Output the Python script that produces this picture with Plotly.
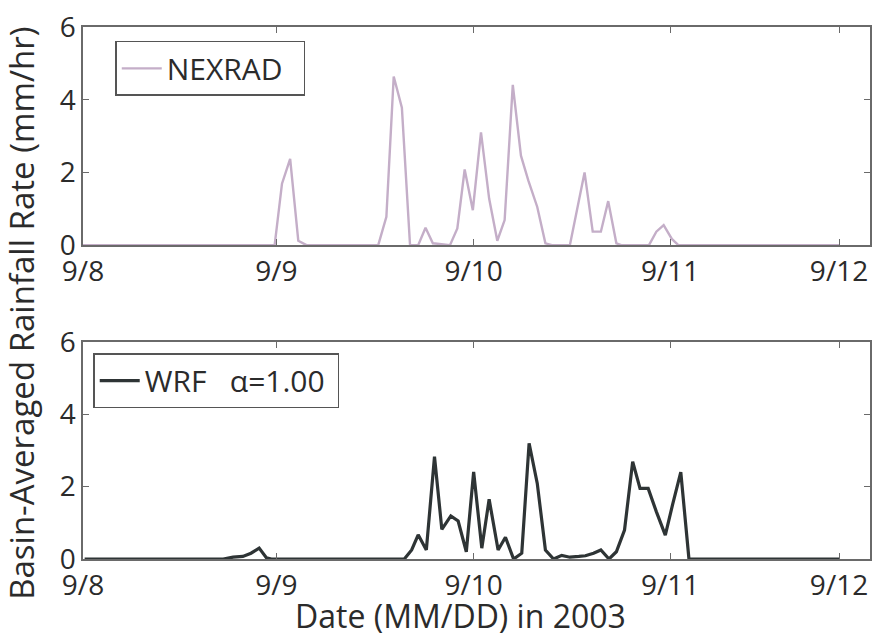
import plotly.graph_objects as go
from plotly.subplots import make_subplots

# hours since 9/8 00:00
nexrad_hours = [0, 23.5, 24.4, 25.4, 26.4, 27.4, 36.2, 37.2, 38.1, 39.1, 40.1, 41.1, 42.0, 42.9,
                45.0, 45.9, 46.8, 47.8, 48.8, 49.8, 50.8, 51.7, 52.7, 53.7, 54.6, 55.7, 56.7, 57.5,
                59.7, 60.6, 61.5, 62.5, 63.5, 64.4, 65.4, 66.0, 69.4, 70.3, 71.2, 72.2, 73.0, 92.7]
nexrad_rate = [0, 0, 1.69, 2.37, 0.12, 0, 0, 0.78, 4.64, 3.78, 0, 0, 0.48, 0.05,
               0, 0.46, 2.08, 0.96, 3.10, 1.28, 0.12, 0.69, 4.41, 2.46, 1.78, 1.05, 0.05, 0,
               0, 1.00, 2.00, 0.37, 0.37, 1.21, 0.05, 0, 0, 0.37, 0.55, 0.17, 0, 0]

wrf_hours = [0.2, 17.2, 18.4, 19.6, 20.6, 21.6, 22.5, 23.1, 39.4, 40.3, 41.1, 42.1, 43.1, 44.0,
             45.1, 46.0, 47.0, 47.9, 48.9, 49.8, 50.9, 51.8, 52.8, 53.8, 54.7, 55.7, 56.7, 57.7,
             58.7, 59.7, 60.8, 61.6, 62.6, 63.5, 64.5, 65.4, 66.4, 67.4, 68.3, 69.3, 70.3, 71.4,
             72.3, 73.3, 74.3, 92.7]
wrf_rate = [0, 0, 0.05, 0.07, 0.16, 0.30, 0.03, 0, 0, 0.25, 0.67, 0.25, 2.83, 0.82,
            1.19, 1.05, 0.20, 2.41, 0.30, 1.65, 0.25, 0.60, 0, 0.16, 3.20, 2.09, 0.25, 0,
            0.10, 0.05, 0.07, 0.09, 0.16, 0.25, 0, 0.20, 0.80, 2.69, 1.95, 1.95, 1.31, 0.66,
            1.51, 2.40, 0, 0]

tick_hours = [0, 23.7, 47.9, 72.0, 92.7]
tick_labels = ["9/8", "9/9", "9/10", "9/11", "9/12"]
y_ticks = [0, 2, 4, 6]

FONT = "Open Sans"
TXT = "#2b2b2b"
AX = "#6a6a6a"

fig = make_subplots(rows=2, cols=1, vertical_spacing=0.0)

fig.add_trace(go.Scatter(x=nexrad_hours, y=nexrad_rate, mode="lines",
                         name="NEXRAD\u00a0\u00a0",
                         line=dict(color="#c4aec8", width=2.4), legend="legend",
                         showlegend=True), row=1, col=1)
fig.add_trace(go.Scatter(x=wrf_hours, y=wrf_rate, mode="lines",
                         name="WRF\u00a0\u00a0\u00a0\u03b1=1.00\u00a0",
                         line=dict(color="#2e3435", width=3.2), legend="legend2",
                         showlegend=True), row=2, col=1)

axis_common = dict(showline=True, linecolor=AX, linewidth=1.5, mirror="ticks", ticks="inside",
                   ticklen=6, tickcolor=AX, showgrid=False, zeroline=False,
                   tickfont=dict(family=FONT, size=28, color=TXT))

for r in (1, 2):
    fig.update_xaxes(range=[0, 96.5], tickvals=tick_hours, ticktext=tick_labels, ticklabelstandoff=1,
                     **axis_common, row=r, col=1)
    fig.update_yaxes(range=[0, 6], tickvals=y_ticks, ticklabelstandoff=0, **axis_common, row=r, col=1)

fig.update_layout(
    width=875, height=637,
    margin=dict(l=83, r=3, t=27, b=78),
    plot_bgcolor="white", paper_bgcolor="white",
    showlegend=True,
    yaxis=dict(domain=[0.590, 1.0]),
    yaxis2=dict(domain=[0.0, 0.408]),
    xaxis=dict(anchor="y"), xaxis2=dict(anchor="y2"),
    legend=dict(x=0.041, y=0.974, xanchor="left", yanchor="top", bgcolor="white",
                bordercolor="#555555", borderwidth=1.5, itemwidth=40,
                font=dict(family=FONT, size=30, color=TXT)),
    legend2=dict(x=0.013, y=0.387, xanchor="left", yanchor="top", bgcolor="white",
                 bordercolor="#555555", borderwidth=1.5, itemwidth=40,
                 font=dict(family=FONT, size=30, color=TXT)),
    annotations=[
        dict(text="Date (MM/DD) in 2003", xref="paper", yref="paper", x=0.480, y=-0.106,
             xanchor="center", yanchor="middle", showarrow=False,
             font=dict(family=FONT, size=32, color=TXT)),
        dict(text="Basin-Averaged Rainfall Rate (mm/hr)", xref="paper", yref="paper",
             x=-0.078, y=0.462, xanchor="center", yanchor="middle", textangle=-90,
             showarrow=False, font=dict(family=FONT, size=33, color=TXT)),
    ],
)

fig.write_html("out.html")
